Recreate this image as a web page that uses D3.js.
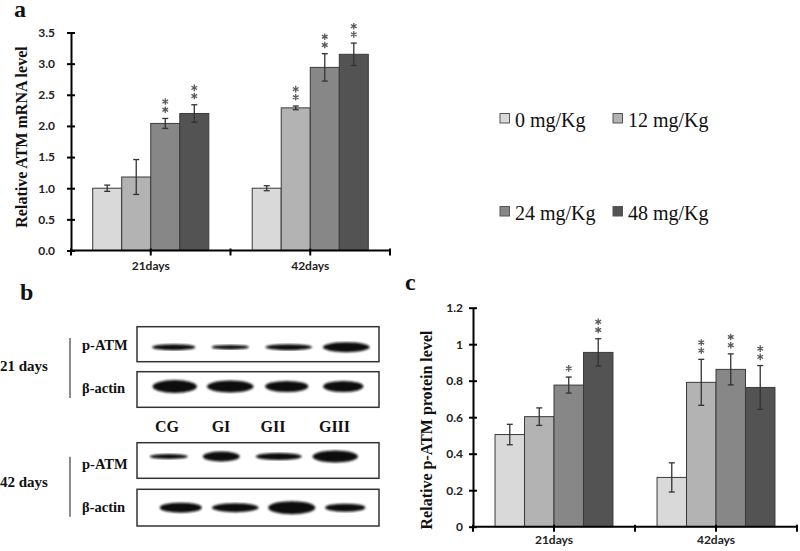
<!DOCTYPE html>
<html><head><meta charset="utf-8">
<script src="https://cdn.jsdelivr.net/npm/d3@7"></script>
<style>body{margin:0;background:#fff}svg{display:block}</style>
</head><body>
<svg id="c" width="800" height="551"></svg>
<script>
// ---------- data ----------
const categories = ["21days", "42days"];
const series = ["0 mg/Kg", "12 mg/Kg", "24 mg/Kg", "48 mg/Kg"];
const seriesColors = ["#d9d9d9", "#b3b3b3", "#878787", "#535353"];

const mrnaValues = [[1.00, 1.18, 2.04, 2.20], [1.00, 2.29, 2.94, 3.15]];
const mrnaErrors = [[0.05, 0.28, 0.08, 0.14], [0.04, 0.03, 0.22, 0.18]];
const mrnaSig = [["", "", "**", "**"], ["", "**", "**", "**"]];
const mrnaTicks = [0, 0.5, 1, 1.5, 2, 2.5, 3, 3.5];
const mrnaTickLabels = ["0.0", "0.5", "1.0", "1.5", "2.0", "2.5", "3.0", "3.5"];

const protValues = [[0.505, 0.603, 0.776, 0.955], [0.27, 0.791, 0.862, 0.763]];
const protErrors = [[0.056, 0.048, 0.044, 0.075], [0.08, 0.126, 0.085, 0.12]];
const protSig = [["", "", "*", "**"], ["", "**", "**", "**"]];
const protTicks = [0, 0.2, 0.4, 0.6, 0.8, 1, 1.2];
const protTickLabels = ["0", "0.2", "0.4", "0.6", "0.8", "1", "1.2"];

// western blot (image content): lane names, row names, band length (fraction of lane), thickness, drift
const lanes = ["CG", "GI", "GII", "GIII"];
const blotTimes = ["21 days", "42 days"];
const blotRows = ["p-ATM", "β-actin"];
const bandLen = [[0.75, 0.65, 0.81, 0.81], [0.77, 0.81, 0.75, 0.70], [0.66, 0.64, 0.80, 0.79], [0.73, 0.81, 0.82, 0.70]];
const bandThick = [[6, 4.5, 6, 10], [13, 12, 11, 11], [5, 10, 7, 12], [10, 9, 13, 8]];
const bandDrift = [[0, -1, 0, 0], [1, -1, -2, -3], [-5, -10, -10, -11], [7, 4, 3, -1]];
const bandRowShift = [3, -3, -4, 0];

// ---------- drawing ----------
const svg = d3.select("#c");
const serif = "'Liberation Serif','Times New Roman',serif";
const sans = "Lato,'Open Sans',sans-serif";

function asterisks(g, cx, top, n) {
  for (let k = 0; k < n; k++) {
    g.append("path")
      .attr("d", d3.symbol(d3.symbolAsterisk, 30)())
      .attr("transform", `translate(${cx},${top - 8.7 - k * 8.2})`)
      .attr("stroke", "#5a5a5a").attr("stroke-width", 1.3).attr("fill", "none");
  }
}

function barPanel(o) {
  const g = svg.append("g");
  const x = d3.scaleBand().domain(categories).range([o.x0, o.x1]);
  const bw = x.bandwidth();
  const gw = bw * 0.728;
  const x1 = d3.scaleBand().domain(series).range([(bw - gw) / 2, (bw + gw) / 2]);
  const y = d3.scaleLinear().domain([0, o.max]).range([o.y0, o.y1]);

  categories.forEach((c, i) => {
    const gg = g.append("g").attr("transform", `translate(${x(c)},0)`);
    gg.selectAll("rect").data(series).join("rect")
      .attr("x", s => x1(s)).attr("width", x1.bandwidth())
      .attr("y", (s, j) => y(o.values[i][j]))
      .attr("height", (s, j) => y(0) - y(o.values[i][j]))
      .attr("fill", (s, j) => seriesColors[j])
      .attr("stroke", "#3a3a3a").attr("stroke-width", 1);
    series.forEach((s, j) => {
      const cx = x1(s) + x1.bandwidth() / 2;
      const v = o.values[i][j], e = o.errors[i][j];
      const hi = y(v + e), lo = y(v - e);
      gg.append("line").attr("x1", cx).attr("x2", cx).attr("y1", hi).attr("y2", lo)
        .attr("stroke", "#333").attr("stroke-width", 1.3);
      [hi, lo].forEach(yy => gg.append("line").attr("x1", cx - 3).attr("x2", cx + 3)
        .attr("y1", yy).attr("y2", yy).attr("stroke", "#333").attr("stroke-width", 1.3));
      asterisks(gg, cx, hi, o.sig[i][j].length);
    });
  });

  // y axis
  const ya = g.append("g").attr("transform", `translate(${o.x0},0)`)
    .call(d3.axisLeft(y).tickValues(o.ticks).tickSize(4).tickSizeOuter(0)
      .tickFormat((d, i) => o.tickLabels[i]));
  ya.select(".domain").attr("stroke", "#000").attr("stroke-width", 2);
  ya.selectAll(".tick line").attr("stroke", "#000").attr("stroke-width", 2).attr("x2", -4).attr("x1", 4);
  ya.selectAll(".tick text").attr("font-family", sans).attr("font-weight", 700)
    .attr("font-size", 12).attr("fill", "#222").attr("x", -o.tickGap);

  // x axis
  g.append("line").attr("x1", o.x0).attr("x2", o.x1).attr("y1", y(0)).attr("y2", y(0))
    .attr("stroke", "#000").attr("stroke-width", 2);
  const tickPos = [];
  categories.forEach(c => { tickPos.push(x(c)); tickPos.push(x(c) + bw / 2); });
  tickPos.push(o.x1);
  g.selectAll(".xt").data(tickPos).join("line").attr("class", "xt")
    .attr("x1", d => d).attr("x2", d => d).attr("y1", y(0) - 2).attr("y2", y(0) + 5)
    .attr("stroke", "#000").attr("stroke-width", 2);
  g.selectAll(".xl").data(categories).join("text").attr("class", "xl")
    .attr("x", c => x(c) + bw / 2).attr("y", o.xlabY).attr("text-anchor", "middle")
    .attr("font-family", sans).attr("font-weight", 700).attr("font-size", 12).attr("fill", "#222")
    .text(c => c);

  g.append("text").attr("transform", `translate(${o.labX},${o.labY}) rotate(-90)`)
    .attr("text-anchor", "middle").attr("font-family", serif).attr("font-weight", 700)
    .attr("font-size", 16).attr("fill", "#111").text(o.label);
  g.append("text").attr("x", o.letterX).attr("y", o.letterY).attr("font-family", serif)
    .attr("font-weight", 700).attr("font-size", 24).attr("fill", "#111").text(o.letter);
}

barPanel({ x0: 71, x1: 390, y0: 250.5, y1: 32.5, max: 3.5, values: mrnaValues, errors: mrnaErrors,
  sig: mrnaSig, ticks: mrnaTicks, tickLabels: mrnaTickLabels, xlabY: 270, tickGap: 16,
  label: "Relative ATM mRNA level", labX: 27, labY: 137, letter: "a", letterX: 14, letterY: 17 });

barPanel({ x0: 473, x1: 797, y0: 526.7, y1: 307.7, max: 1.2, values: protValues, errors: protErrors,
  sig: protSig, ticks: protTicks, tickLabels: protTickLabels, xlabY: 544, tickGap: 10,
  label: "Relative p-ATM protein level", labX: 432, labY: 430, letter: "c", letterX: 405, letterY: 290 });

// legend
const leg = svg.append("g");
const legX = [500, 613], legY = [127, 220];
series.forEach((s, j) => {
  const lx = legX[j % 2], ly = legY[Math.floor(j / 2)];
  leg.append("rect").attr("x", lx).attr("y", ly - 13.5).attr("width", 9.5).attr("height", 9.5)
    .attr("fill", seriesColors[j]).attr("stroke", "#555").attr("stroke-width", 1);
  leg.append("text").attr("x", lx + 15).attr("y", ly).attr("font-family", serif)
    .attr("font-size", 20).attr("fill", "#111").text(s);
});

// panel b: western blot
const b = svg.append("g");
b.append("text").attr("x", 20).attr("y", 300).attr("font-family", serif).attr("font-weight", 700)
  .attr("font-size", 24).attr("fill", "#111").text("b");
const defs = svg.append("defs");
defs.append("filter").attr("id", "blur").append("feGaussianBlur").attr("stdDeviation", 0.9);
const laneX = d3.scaleBand().domain(lanes).range([145, 375]);
const boxes = [[326.7, 361.7], [371.7, 407.3], [442.7, 478.3], [489.3, 526]];
const labelBase = [350, 392.5, 469, 512];
boxes.forEach((bx, r) => {
  b.append("rect").attr("x", 137).attr("y", bx[0]).attr("width", 242).attr("height", bx[1] - bx[0])
    .attr("fill", "#fff").attr("stroke", "#333").attr("stroke-width", 1.5);
  const cy = (bx[0] + bx[1]) / 2 + bandRowShift[r];
  lanes.forEach((l, k) => {
    const len = bandLen[r][k] * laneX.step(), th = bandThick[r][k];
    const cx = laneX(l) + laneX.bandwidth() / 2 + bandDrift[r][k];
    b.append("rect").attr("x", cx - len / 2).attr("y", cy - th / 2).attr("width", len).attr("height", th)
      .attr("rx", len / 2).attr("ry", th / 2).attr("fill", "#0d0d0d").attr("filter", "url(#blur)");
  });
  b.append("text").attr("x", 82).attr("y", labelBase[r]).attr("font-family", serif).attr("font-weight", 700)
    .attr("font-size", 14.5).attr("fill", "#111").text(blotRows[r % 2]);
});
// lane labels
b.selectAll(".ln").data(lanes).join("text").attr("class", "ln")
  .attr("x", (l, k) => [167, 221, 273, 334.5][k]).attr("y", 431.5).attr("text-anchor", "middle")
  .attr("font-family", serif).attr("font-weight", 700).attr("font-size", 16).attr("fill", "#111").text(l => l);
// time labels and brackets
const timeY = [371, 487], lineY = [[338, 398], [456.7, 516.7]];
blotTimes.forEach((t, i) => {
  b.append("text").attr("x", 0).attr("y", timeY[i]).attr("font-family", serif).attr("font-weight", 700)
    .attr("font-size", 15).attr("fill", "#111").text(t);
  b.append("line").attr("x1", 70).attr("x2", 70).attr("y1", lineY[i][0]).attr("y2", lineY[i][1])
    .attr("stroke", "#666").attr("stroke-width", 1.5);
});
</script>
</body></html>
